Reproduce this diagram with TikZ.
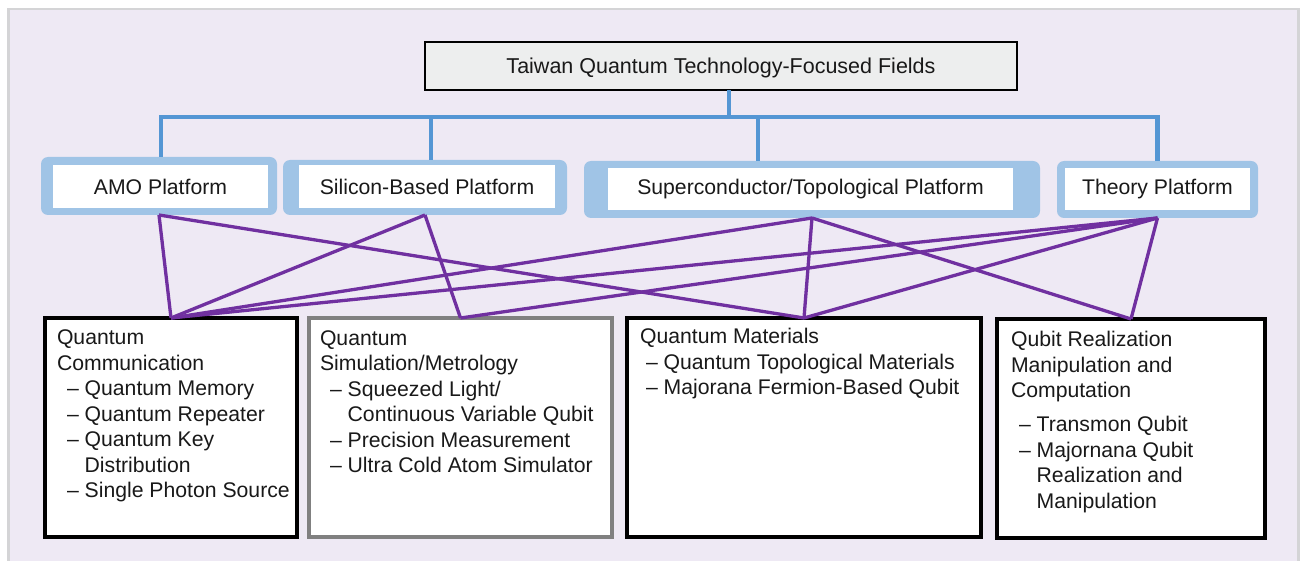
\documentclass[tikz,border=0pt]{standalone}
\usepackage{fontspec}
\setmainfont{Liberation Sans}
\usetikzlibrary{fit}
\definecolor{bgc}{RGB}{238,233,244}
\definecolor{framec}{RGB}{212,212,214}
\definecolor{tblue}{RGB}{84,150,212}
\definecolor{pblue}{RGB}{160,196,230}
\definecolor{purp}{RGB}{112,48,160}
\definecolor{tgray}{RGB}{237,238,238}
\definecolor{fgray}{RGB}{128,128,128}
\begin{document}
\begin{tikzpicture}[x=1pt,y=-1pt,
  every node/.style={inner sep=0pt,outer sep=0pt},
  txt/.style={font=\fontsize{21.2}{25.5}\selectfont,text=black!90},
  titlebox/.style={draw=black,line width=2.5pt,fill=tgray},
  plat/.style={fill=pblue,rounded corners=7pt},
  platin/.style={fill=white},
  field/.style={draw=black,line width=3.5pt,fill=white},
  ftext/.style={txt,align=left,anchor=north west},
  tline/.style={draw=tblue,line width=4.5pt},
  pline/.style={draw=purp,line width=3.3pt,line join=round}]
\useasboundingbox (0,0) rectangle (1304,561);
\fill[white] (0,0) rectangle (1304,561);
\fill[framec] (7,8) rectangle (1299.5,561);
\fill[bgc] (9.5,10.5) rectangle (1297,561);

% title
\node[titlebox,fit={(425,42)(1017,90)}] (title) {};
\node[txt,font=\fontsize{21.5}{25}\selectfont] at ([yshift=-1.5pt]title.center) {Taiwan Quantum Technology-Focused Fields};

% platforms
\node[plat,fit={(41,157)(277,215)}] (amo) {};
\node[platin,fit={(53,165)(268,208)}] (amoin) {};
\node[txt] at (amoin.center) {AMO Platform};
\node[plat,fit={(283,160)(567,215)}] (si) {};
\node[platin,fit={(299,165)(555,208)}] (siin) {};
\node[txt] at (siin.center) {Silicon-Based Platform};
\node[plat,fit={(584,161)(1040,218)}] (sup) {};
\node[platin,fit={(608,168)(1013,210)}] (supin) {};
\node[txt] at (supin.center) {Superconductor/Topological Platform};
\node[plat,fit={(1057,161)(1258,218)}] (th) {};
\node[platin,fit={(1065,168)(1250,210)}] (thin) {};
\node[txt] at (thin.center) {Theory Platform};

% fields
\node[field,fit={(45,318)(297,537)}] (qc) {};
\node[field,draw=fgray,fit={(309,318)(612,537)}] (qs) {};
\node[field,fit={(627,318)(981,537)}] (qm) {};
\node[field,fit={(997,319)(1265,538)}] (qr) {};

\node[ftext] at ([xshift=12pt,yshift=-12pt]qc.north west) {Quantum\\Communication\\
\hspace{10pt}– Quantum Memory\\
\hspace{10pt}– Quantum Repeater\\
\hspace{10pt}– Quantum Key\\
\hspace{10pt}\phantom{– }Distribution\\
\hspace{10pt}– Single Photon Source};
\node[ftext] at ([xshift=11pt,yshift=-12.5pt]qs.north west) {Quantum\\Simulation/Metrology\\
\hspace{10pt}– Squeezed Light/\\
\hspace{10pt}\phantom{– }Continuous Variable Qubit\\
\hspace{10pt}– Precision Measurement\\
\hspace{10pt}– Ultra Cold Atom Simulator};
\node[ftext] at ([xshift=13pt,yshift=-10.5pt]qm.north west) {Quantum Materials\\
\hspace{6pt}– Quantum Topological Materials\\
\hspace{6pt}– Majorana Fermion-Based Qubit};
\node[ftext] at ([xshift=14pt,yshift=-12.5pt]qr.north west) {Qubit Realization\\Manipulation and\\Computation\\[8.5pt]
\hspace{8pt}– Transmon Qubit\\
\hspace{8pt}– Majornana Qubit\\
\hspace{8pt}\phantom{– }Realization and\\
\hspace{8pt}\phantom{– }Manipulation};

% blue tree
\coordinate (bus) at ([xshift=8pt,yshift=-27pt]title.south);
\draw[tline] ([xshift=8pt]title.south) -- (bus);
\draw[tline] ([xshift=2pt]amo.north) |- (bus) -| (th.north);
\draw[tline] ([xshift=6pt]si.north) -- ([xshift=6pt]si.north |- bus);
\draw[tline] ([xshift=-54pt]sup.north) -- ([xshift=-54pt]sup.north |- bus);

% purple links
\draw[pline] (amo.south) -- (qc.north);
\draw[pline] (amo.south) -- (qm.north);
\draw[pline] (si.south) -- (qc.north);
\draw[pline] (si.south) -- (qs.north);
\draw[pline] (sup.south) -- (qc.north);
\draw[pline] (sup.south) -- (qm.north);
\draw[pline] (sup.south) -- (qr.north);
\draw[pline] (th.south) -- (qc.north);
\draw[pline] (th.south) -- (qs.north);
\draw[pline] (th.south) -- (qm.north);
\draw[pline] (th.south) -- (qr.north);
\end{tikzpicture}
\end{document}
